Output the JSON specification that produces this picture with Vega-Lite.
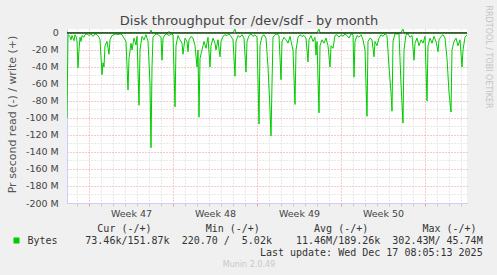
{
  "$schema": "https://vega.github.io/schema/vega-lite/v6.json",
  "width": 400,
  "height": 174,
  "autosize": "none",
  "padding": {"left": 67, "top": 29, "right": 30, "bottom": 72},
  "background": "#f0f0f0",
  "config": {"view": {"stroke": null, "fill": "#ffffff"}, "font": "DejaVu Sans"},
  "data": {"values": [
    {"time":"2025-11-15T04:00:00Z","read":-100,"write":0.2},
    {"time":"2025-11-15T06:00:00Z","read":-2,"write":0.2},
    {"time":"2025-11-15T10:00:00Z","read":-4,"write":0.2},
    {"time":"2025-11-15T12:00:00Z","read":-8,"write":0.2},
    {"time":"2025-11-15T14:00:00Z","read":-3,"write":0.2},
    {"time":"2025-11-15T16:00:00Z","read":-6,"write":0.2},
    {"time":"2025-11-15T18:00:00Z","read":-9,"write":0.2},
    {"time":"2025-11-15T20:00:00Z","read":-2,"write":0.2},
    {"time":"2025-11-15T22:00:00Z","read":-4,"write":0.2},
    {"time":"2025-11-16T00:00:00Z","read":-10,"write":0.2},
    {"time":"2025-11-16T02:00:00Z","read":-41,"write":0.2},
    {"time":"2025-11-16T04:00:00Z","read":-20,"write":0.2},
    {"time":"2025-11-16T06:00:00Z","read":-5,"write":0.2},
    {"time":"2025-11-16T08:00:00Z","read":-10,"write":0.2},
    {"time":"2025-11-16T10:00:00Z","read":-3,"write":0.2},
    {"time":"2025-11-16T14:00:00Z","read":-5,"write":0.2},
    {"time":"2025-11-16T16:00:00Z","read":-2,"write":0.2},
    {"time":"2025-11-16T20:00:00Z","read":-1,"write":0.2},
    {"time":"2025-11-17T00:00:00Z","read":-3,"write":0.2},
    {"time":"2025-11-17T04:00:00Z","read":-1,"write":0.2},
    {"time":"2025-11-17T08:00:00Z","read":-4,"write":0.2},
    {"time":"2025-11-17T12:00:00Z","read":-1,"write":0.2},
    {"time":"2025-11-17T16:00:00Z","read":-2,"write":0.2},
    {"time":"2025-11-17T20:00:00Z","read":-5,"write":0.2},
    {"time":"2025-11-17T22:00:00Z","read":-8,"write":0.2},
    {"time":"2025-11-18T02:00:00Z","read":-49,"write":0.2},
    {"time":"2025-11-18T04:00:00Z","read":-35,"write":0.2},
    {"time":"2025-11-18T06:00:00Z","read":-40,"write":0.2},
    {"time":"2025-11-18T08:00:00Z","read":-15,"write":0.2},
    {"time":"2025-11-18T12:00:00Z","read":-10,"write":0.2},
    {"time":"2025-11-18T16:00:00Z","read":-25,"write":0.2},
    {"time":"2025-11-18T18:00:00Z","read":-8,"write":0.2},
    {"time":"2025-11-18T22:00:00Z","read":-3,"write":0.2},
    {"time":"2025-11-19T02:00:00Z","read":-2,"write":0.2},
    {"time":"2025-11-19T06:00:00Z","read":-1,"write":0.2},
    {"time":"2025-11-19T10:00:00Z","read":-2,"write":0.2},
    {"time":"2025-11-19T14:00:00Z","read":-1,"write":0.2},
    {"time":"2025-11-19T18:00:00Z","read":-2,"write":0.2},
    {"time":"2025-11-19T22:00:00Z","read":-6,"write":0.2},
    {"time":"2025-11-20T02:00:00Z","read":-10,"write":0.2},
    {"time":"2025-11-20T06:00:00Z","read":-67,"write":0.2},
    {"time":"2025-11-20T08:00:00Z","read":-30,"write":0.2},
    {"time":"2025-11-20T12:00:00Z","read":-12,"write":0.2},
    {"time":"2025-11-20T14:00:00Z","read":-20,"write":0.2},
    {"time":"2025-11-20T18:00:00Z","read":-6,"write":0.2},
    {"time":"2025-11-20T22:00:00Z","read":-14,"write":0.2},
    {"time":"2025-11-21T00:00:00Z","read":-4,"write":0.2},
    {"time":"2025-11-21T04:00:00Z","read":-85,"write":0.2},
    {"time":"2025-11-21T06:00:00Z","read":-20,"write":0.2},
    {"time":"2025-11-21T10:00:00Z","read":-4,"write":0.2},
    {"time":"2025-11-21T14:00:00Z","read":-8,"write":0.2},
    {"time":"2025-11-21T18:00:00Z","read":-2,"write":0.2},
    {"time":"2025-11-21T22:00:00Z","read":-10,"write":0.2},
    {"time":"2025-11-22T02:00:00Z","read":-60,"write":0.2},
    {"time":"2025-11-22T04:00:00Z","read":-135,"write":3.5},
    {"time":"2025-11-22T06:00:00Z","read":-40,"write":0.2},
    {"time":"2025-11-22T08:00:00Z","read":-5,"write":0.2},
    {"time":"2025-11-22T12:00:00Z","read":-2,"write":0.2},
    {"time":"2025-11-22T16:00:00Z","read":-1,"write":0.2},
    {"time":"2025-11-22T20:00:00Z","read":-3,"write":0.2},
    {"time":"2025-11-23T00:00:00Z","read":-5,"write":0.2},
    {"time":"2025-11-23T02:00:00Z","read":-32,"write":0.2},
    {"time":"2025-11-23T04:00:00Z","read":-6,"write":0.2},
    {"time":"2025-11-23T08:00:00Z","read":-2,"write":0.2},
    {"time":"2025-11-23T12:00:00Z","read":-1,"write":0.2},
    {"time":"2025-11-23T16:00:00Z","read":-3,"write":1.5},
    {"time":"2025-11-23T20:00:00Z","read":-1,"write":0.2},
    {"time":"2025-11-24T00:00:00Z","read":-2,"write":0.2},
    {"time":"2025-11-24T04:00:00Z","read":-87,"write":0.2},
    {"time":"2025-11-24T06:00:00Z","read":-15,"write":0.2},
    {"time":"2025-11-24T10:00:00Z","read":-3,"write":0.2},
    {"time":"2025-11-24T14:00:00Z","read":-8,"write":0.2},
    {"time":"2025-11-24T18:00:00Z","read":-12,"write":0.2},
    {"time":"2025-11-24T20:00:00Z","read":-25,"write":0.2},
    {"time":"2025-11-25T00:00:00Z","read":-6,"write":0.2},
    {"time":"2025-11-25T04:00:00Z","read":-10,"write":0.2},
    {"time":"2025-11-25T06:00:00Z","read":-22,"write":0.2},
    {"time":"2025-11-25T08:00:00Z","read":-8,"write":0.2},
    {"time":"2025-11-25T12:00:00Z","read":-4,"write":0.2},
    {"time":"2025-11-25T16:00:00Z","read":-6,"write":0.2},
    {"time":"2025-11-25T20:00:00Z","read":-15,"write":0.2},
    {"time":"2025-11-26T00:00:00Z","read":-40,"write":0.2},
    {"time":"2025-11-26T02:00:00Z","read":-20,"write":0.2},
    {"time":"2025-11-26T04:00:00Z","read":-99,"write":0.2},
    {"time":"2025-11-26T06:00:00Z","read":-30,"write":0.2},
    {"time":"2025-11-26T10:00:00Z","read":-20,"write":0.2},
    {"time":"2025-11-26T14:00:00Z","read":-10,"write":0.2},
    {"time":"2025-11-26T18:00:00Z","read":-18,"write":0.2},
    {"time":"2025-11-26T22:00:00Z","read":-5,"write":0.2},
    {"time":"2025-11-27T02:00:00Z","read":-40,"write":0.2},
    {"time":"2025-11-27T04:00:00Z","read":-15,"write":0.2},
    {"time":"2025-11-27T08:00:00Z","read":-6,"write":0.2},
    {"time":"2025-11-27T12:00:00Z","read":-12,"write":0.2},
    {"time":"2025-11-27T14:00:00Z","read":-20,"write":0.2},
    {"time":"2025-11-27T18:00:00Z","read":-8,"write":0.2},
    {"time":"2025-11-27T22:00:00Z","read":-28,"write":0.2},
    {"time":"2025-11-28T00:00:00Z","read":-10,"write":0.2},
    {"time":"2025-11-28T04:00:00Z","read":-4,"write":0.2},
    {"time":"2025-11-28T08:00:00Z","read":-2,"write":0.2},
    {"time":"2025-11-28T12:00:00Z","read":-3,"write":0.2},
    {"time":"2025-11-28T16:00:00Z","read":-1,"write":0.2},
    {"time":"2025-11-28T20:00:00Z","read":-4,"write":0.2},
    {"time":"2025-11-29T00:00:00Z","read":-8,"write":0.2},
    {"time":"2025-11-29T04:00:00Z","read":-51,"write":4.5},
    {"time":"2025-11-29T06:00:00Z","read":-10,"write":0.2},
    {"time":"2025-11-29T10:00:00Z","read":-3,"write":0.2},
    {"time":"2025-11-29T14:00:00Z","read":-5,"write":0.2},
    {"time":"2025-11-29T18:00:00Z","read":-2,"write":0.2},
    {"time":"2025-11-29T22:00:00Z","read":-6,"write":0.2},
    {"time":"2025-11-30T02:00:00Z","read":-46,"write":0.2},
    {"time":"2025-11-30T04:00:00Z","read":-10,"write":0.2},
    {"time":"2025-11-30T08:00:00Z","read":-3,"write":0.2},
    {"time":"2025-11-30T12:00:00Z","read":-1,"write":0.2},
    {"time":"2025-11-30T16:00:00Z","read":-4,"write":0.2},
    {"time":"2025-11-30T20:00:00Z","read":-2,"write":0.2},
    {"time":"2025-12-01T00:00:00Z","read":-5,"write":0.2},
    {"time":"2025-12-01T04:00:00Z","read":-107,"write":0.2},
    {"time":"2025-12-01T06:00:00Z","read":-15,"write":0.2},
    {"time":"2025-12-01T10:00:00Z","read":-4,"write":0.2},
    {"time":"2025-12-01T14:00:00Z","read":-2,"write":0.2},
    {"time":"2025-12-01T18:00:00Z","read":-6,"write":0.2},
    {"time":"2025-12-01T22:00:00Z","read":-40,"write":0.2},
    {"time":"2025-12-02T02:00:00Z","read":-90,"write":0.2},
    {"time":"2025-12-02T04:00:00Z","read":-121,"write":0.2},
    {"time":"2025-12-02T06:00:00Z","read":-60,"write":0.2},
    {"time":"2025-12-02T08:00:00Z","read":-5,"write":0.2},
    {"time":"2025-12-02T12:00:00Z","read":-2,"write":0.2},
    {"time":"2025-12-02T16:00:00Z","read":-1,"write":0.2},
    {"time":"2025-12-02T20:00:00Z","read":-3,"write":0.2},
    {"time":"2025-12-03T00:00:00Z","read":-55,"write":0.2},
    {"time":"2025-12-03T02:00:00Z","read":-10,"write":0.2},
    {"time":"2025-12-03T06:00:00Z","read":-5,"write":0.2},
    {"time":"2025-12-03T10:00:00Z","read":-8,"write":0.2},
    {"time":"2025-12-03T14:00:00Z","read":-12,"write":0.2},
    {"time":"2025-12-03T18:00:00Z","read":-4,"write":0.2},
    {"time":"2025-12-03T22:00:00Z","read":-15,"write":0.2},
    {"time":"2025-12-04T00:00:00Z","read":-20,"write":0.2},
    {"time":"2025-12-04T04:00:00Z","read":-84,"write":0.2},
    {"time":"2025-12-04T06:00:00Z","read":-20,"write":0.2},
    {"time":"2025-12-04T10:00:00Z","read":-5,"write":0.2},
    {"time":"2025-12-04T14:00:00Z","read":-2,"write":0.2},
    {"time":"2025-12-04T18:00:00Z","read":-4,"write":0.2},
    {"time":"2025-12-04T22:00:00Z","read":-3,"write":0.2},
    {"time":"2025-12-05T02:00:00Z","read":-6,"write":0.2},
    {"time":"2025-12-05T06:00:00Z","read":-34,"write":0.2},
    {"time":"2025-12-05T08:00:00Z","read":-8,"write":0.2},
    {"time":"2025-12-05T12:00:00Z","read":-3,"write":0.2},
    {"time":"2025-12-05T16:00:00Z","read":-10,"write":0.2},
    {"time":"2025-12-05T20:00:00Z","read":-5,"write":0.2},
    {"time":"2025-12-05T22:00:00Z","read":-26,"write":0.2},
    {"time":"2025-12-06T00:00:00Z","read":-10,"write":0.2},
    {"time":"2025-12-06T04:00:00Z","read":-94,"write":4.5},
    {"time":"2025-12-06T06:00:00Z","read":-15,"write":0.2},
    {"time":"2025-12-06T10:00:00Z","read":-8,"write":0.2},
    {"time":"2025-12-06T14:00:00Z","read":-12,"write":0.2},
    {"time":"2025-12-06T18:00:00Z","read":-6,"write":0.2},
    {"time":"2025-12-06T22:00:00Z","read":-15,"write":0.2},
    {"time":"2025-12-07T02:00:00Z","read":-40,"write":0.2},
    {"time":"2025-12-07T04:00:00Z","read":-15,"write":0.2},
    {"time":"2025-12-07T08:00:00Z","read":-18,"write":0.2},
    {"time":"2025-12-07T12:00:00Z","read":-3,"write":0.2},
    {"time":"2025-12-07T16:00:00Z","read":-2,"write":0.2},
    {"time":"2025-12-07T20:00:00Z","read":-5,"write":0.2},
    {"time":"2025-12-08T00:00:00Z","read":-2,"write":0.2},
    {"time":"2025-12-08T04:00:00Z","read":-4,"write":0.2},
    {"time":"2025-12-08T08:00:00Z","read":-1,"write":0.2},
    {"time":"2025-12-08T12:00:00Z","read":-3,"write":0.2},
    {"time":"2025-12-08T16:00:00Z","read":-6,"write":0.2},
    {"time":"2025-12-08T20:00:00Z","read":-1,"write":0.2},
    {"time":"2025-12-09T00:00:00Z","read":-2,"write":0.2},
    {"time":"2025-12-09T02:00:00Z","read":-52,"write":0.2},
    {"time":"2025-12-09T04:00:00Z","read":-10,"write":0.2},
    {"time":"2025-12-09T08:00:00Z","read":-3,"write":0.2},
    {"time":"2025-12-09T12:00:00Z","read":-5,"write":0.2},
    {"time":"2025-12-09T16:00:00Z","read":-2,"write":0.2},
    {"time":"2025-12-09T20:00:00Z","read":-8,"write":0.2},
    {"time":"2025-12-10T00:00:00Z","read":-20,"write":0.2},
    {"time":"2025-12-10T02:00:00Z","read":-60,"write":0.2},
    {"time":"2025-12-10T04:00:00Z","read":-98,"write":0.2},
    {"time":"2025-12-10T06:00:00Z","read":-10,"write":0.2},
    {"time":"2025-12-10T10:00:00Z","read":-6,"write":0.2},
    {"time":"2025-12-10T14:00:00Z","read":-8,"write":0.2},
    {"time":"2025-12-10T18:00:00Z","read":-28,"write":0.2},
    {"time":"2025-12-10T20:00:00Z","read":-10,"write":0.2},
    {"time":"2025-12-11T00:00:00Z","read":-15,"write":0.2},
    {"time":"2025-12-11T04:00:00Z","read":-6,"write":0.2},
    {"time":"2025-12-11T08:00:00Z","read":-2,"write":0.2},
    {"time":"2025-12-11T12:00:00Z","read":-4,"write":0.2},
    {"time":"2025-12-11T16:00:00Z","read":-1,"write":0.2},
    {"time":"2025-12-11T20:00:00Z","read":-3,"write":0.2},
    {"time":"2025-12-12T00:00:00Z","read":-40,"write":0.2},
    {"time":"2025-12-12T04:00:00Z","read":-70,"write":0.2},
    {"time":"2025-12-12T06:00:00Z","read":-92,"write":0.2},
    {"time":"2025-12-12T08:00:00Z","read":-10,"write":0.2},
    {"time":"2025-12-12T12:00:00Z","read":-1,"write":0.2},
    {"time":"2025-12-12T16:00:00Z","read":-1,"write":0.2},
    {"time":"2025-12-12T20:00:00Z","read":-1,"write":0.2},
    {"time":"2025-12-13T00:00:00Z","read":-60,"write":0.2},
    {"time":"2025-12-13T04:00:00Z","read":-106,"write":4.5},
    {"time":"2025-12-13T06:00:00Z","read":-20,"write":0.2},
    {"time":"2025-12-13T10:00:00Z","read":-2,"write":0.2},
    {"time":"2025-12-13T14:00:00Z","read":-1,"write":0.2},
    {"time":"2025-12-13T18:00:00Z","read":-5,"write":0.2},
    {"time":"2025-12-13T22:00:00Z","read":-3,"write":0.2},
    {"time":"2025-12-14T02:00:00Z","read":-32,"write":0.2},
    {"time":"2025-12-14T04:00:00Z","read":-12,"write":0.2},
    {"time":"2025-12-14T08:00:00Z","read":-6,"write":0.2},
    {"time":"2025-12-14T12:00:00Z","read":-15,"write":0.2},
    {"time":"2025-12-14T16:00:00Z","read":-8,"write":0.2},
    {"time":"2025-12-14T20:00:00Z","read":-12,"write":0.2},
    {"time":"2025-12-15T00:00:00Z","read":-4,"write":0.2},
    {"time":"2025-12-15T04:00:00Z","read":-80,"write":0.2},
    {"time":"2025-12-15T06:00:00Z","read":-15,"write":0.2},
    {"time":"2025-12-15T10:00:00Z","read":-6,"write":0.2},
    {"time":"2025-12-15T14:00:00Z","read":-12,"write":0.2},
    {"time":"2025-12-15T18:00:00Z","read":-4,"write":0.2},
    {"time":"2025-12-15T22:00:00Z","read":-10,"write":0.2},
    {"time":"2025-12-16T02:00:00Z","read":-22,"write":0.2},
    {"time":"2025-12-16T04:00:00Z","read":-8,"write":0.2},
    {"time":"2025-12-16T08:00:00Z","read":-4,"write":0.2},
    {"time":"2025-12-16T12:00:00Z","read":-2,"write":0.2},
    {"time":"2025-12-16T16:00:00Z","read":-6,"write":0.2},
    {"time":"2025-12-16T20:00:00Z","read":-30,"write":0.2},
    {"time":"2025-12-17T00:00:00Z","read":-70,"write":0.2},
    {"time":"2025-12-17T04:00:00Z","read":-93,"write":0.2},
    {"time":"2025-12-17T06:00:00Z","read":-20,"write":0.2},
    {"time":"2025-12-17T10:00:00Z","read":-10,"write":0.2},
    {"time":"2025-12-17T14:00:00Z","read":-6,"write":0.2},
    {"time":"2025-12-17T18:00:00Z","read":-15,"write":0.2},
    {"time":"2025-12-17T22:00:00Z","read":-8,"write":0.2},
    {"time":"2025-12-18T02:00:00Z","read":-40,"write":0.2},
    {"time":"2025-12-18T04:00:00Z","read":-20,"write":0.2},
    {"time":"2025-12-18T08:00:00Z","read":-5,"write":0.2},
    {"time":"2025-12-18T12:00:00Z","read":-2,"write":0.2}
  ]},
  "layer": [
    {
      "mark": {"type": "line", "strokeWidth": 1, "clip": true},
      "encoding": {
        "x": {
          "field": "time", "type": "temporal",
          "scale": {"type": "utc", "domain": [1763179200000, 1766059200000]},
          "axis": {
            "orient": "bottom",
            "title": [
              "\u2060\u00a0\u00a0Cur\u00a0(-/+)\u00a0\u00a0\u00a0\u00a0\u00a0\u00a0\u00a0\u00a0\u00a0Min\u00a0(-/+)\u00a0\u00a0\u00a0\u00a0\u00a0\u00a0\u00a0\u00a0\u00a0Avg\u00a0(-/+)\u00a0\u00a0\u00a0\u00a0\u00a0\u00a0\u00a0\u00a0\u00a0Max\u00a0(-/+)",
              "73.46k/151.87k\u00a0\u00a0220.70\u00a0/\u00a0\u00a05.02k\u00a0\u00a0\u00a0\u00a011.46M/189.26k\u00a0\u00a0302.43M/\u00a045.74M",
              "\u2060\u00a0\u00a0\u00a0\u00a0\u00a0\u00a0\u00a0\u00a0\u00a0\u00a0\u00a0\u00a0\u00a0\u00a0\u00a0\u00a0\u00a0\u00a0\u00a0\u00a0\u00a0\u00a0\u00a0\u00a0\u00a0\u00a0\u00a0\u00a0\u00a0Last\u00a0update:\u00a0Wed\u00a0Dec\u00a017\u00a008:05:13\u00a02025"
            ],
            "titleFont": "DejaVu Sans Mono", "titleFontSize": 10, "titleFontWeight": "normal", "titleColor": "#333333",
            "titleLineHeight": 12, "titleAlign": "left", "titleBaseline": "alphabetic", "titleX": 17.8, "titleY": 28,
            "values": [1763208000000,1763251200000,1763294400000,1763337600000,1763380800000,1763424000000,1763467200000,1763510400000,1763553600000,1763596800000,1763640000000,1763683200000,1763726400000,1763769600000,1763812800000,1763856000000,1763899200000,1763942400000,1763985600000,1764028800000,1764072000000,1764115200000,1764158400000,1764201600000,1764244800000,1764288000000,1764331200000,1764374400000,1764417600000,1764460800000,1764504000000,1764547200000,1764590400000,1764633600000,1764676800000,1764720000000,1764763200000,1764806400000,1764849600000,1764892800000,1764936000000,1764979200000,1765022400000,1765065600000,1765108800000,1765152000000,1765195200000,1765238400000,1765281600000,1765324800000,1765368000000,1765411200000,1765454400000,1765497600000,1765540800000,1765584000000,1765627200000,1765670400000,1765713600000,1765756800000,1765800000000,1765843200000,1765886400000,1765929600000,1765972800000,1766016000000],
            "grid": true, "gridDash": [1, 2],
            "gridColor": {"condition": {"test": "utcday(datum.value) == 1", "value": "#e69a9a"}, "value": "#d2d2d2"},
            "gridOpacity": {"condition": {"test": "utchours(datum.value) == 12", "value": 0}, "value": 1},
            "ticks": true, "tickSize": 3,
            "tickColor": {"condition": {"test": "utcday(datum.value) == 1", "value": "#e69a9a"}, "value": "#c8c8c8"},
            "tickOpacity": {"condition": {"test": "utchours(datum.value) == 12", "value": 0}, "value": 1},
            "labelExpr": "utcday(datum.value) == 4 && utchours(datum.value) == 12 ? 'Week ' + (47 + round((datum.value - 1763640000000) / 604800000)) : ''",
            "labelFont": "DejaVu Sans", "labelFontSize": 9.5, "labelColor": "#444444", "labelPadding": 2,
            "labelOverlap": false, "labelFlush": false, "labelBound": false,
            "domainColor": "#ccccff"
          }
        },
        "y": {
          "field": "read", "type": "quantitative",
          "scale": {"domain": [-200, 4.7], "nice": false, "zero": false},
          "axis": {
            "orient": "left",
            "values": [-200, -190, -180, -170, -160, -150, -140, -130, -120, -110, -100, -90, -80, -70, -60, -50, -40, -30, -20, -10, 0],
            "title": "Pr second read (-) / write (+)",
            "titleFont": "DejaVu Sans", "titleFontSize": 11, "titleFontWeight": "normal", "titleColor": "#555555",
            "titleAngle": -90, "titleAlign": "center", "titleBaseline": "alphabetic", "titleX": -52, "titleY": 85,
            "grid": true, "gridDash": [1, 2],
            "gridColor": {"condition": {"test": "datum.value % 20 == 0", "value": "#e69a9a"}, "value": "#d2d2d2"},
            "ticks": false, "labelPadding": 8.7,
            "labelExpr": "datum.value % 20 != 0 ? '' : (datum.value == 0 ? '0\u2002' : datum.value + ' M')",
            "labelFont": "DejaVu Sans", "labelFontSize": 9.5, "labelColor": "#444444", "labelOverlap": false,
            "domainColor": "#ccccff"
          }
        },
        "color": {
          "datum": "Bytes",
          "scale": {"range": ["#00cc00"]},
          "legend": {
            "orient": "none", "legendX": -55.5, "legendY": 206.5, "title": null, "padding": 0,
            "symbolType": "square", "symbolSize": 36, "symbolFillColor": "#00cc00", "symbolStrokeWidth": 0,
            "labelFont": "DejaVu Sans Mono", "labelFontSize": 10, "labelColor": "#333333", "labelOffset": 6
          }
        }
      }
    },
    {
      "mark": {"type": "line", "color": "#00cc00", "strokeWidth": 1, "clip": true},
      "encoding": {
        "x": {
          "field": "time", "type": "temporal",
          "scale": {"type": "utc", "domain": [1763179200000, 1766059200000]},
          "axis": {
            "orient": "bottom",
            "title": "Munin 2.0.49", "labels": false, "ticks": false, "grid": false, "domain": false,
            "titleFont": "DejaVu Sans", "titleFontSize": 8, "titleFontWeight": "normal", "titleColor": "#c8c8c8",
            "titleAlign": "center", "titleBaseline": "alphabetic", "titleX": 181.5, "titleY": 63
          }
        },
        "y": {
          "field": "write", "type": "quantitative",
          "scale": {"domain": [-200, 4.7], "nice": false, "zero": false},
          "axis": {
            "orient": "right", "title": "RRDTOOL / TOBI OETIKER", "labels": false, "ticks": false, "grid": false, "domain": false,
            "titleFont": "DejaVu Sans", "titleFontSize": 8, "titleFontWeight": "normal", "titleColor": "#c4c4c4",
            "titleAngle": 90, "titleAlign": "left", "titleBaseline": "alphabetic", "titleX": 18, "titleY": -24
          }
        }
      }
    },
    {
      "data": {"values": [{"label": "zero"}]},
      "mark": {"type": "rule", "color": "#000000", "strokeWidth": 1},
      "encoding": {
        "y": {
          "datum": 0, "type": "quantitative",
          "scale": {"domain": [-200, 4.7], "nice": false, "zero": false},
          "axis": {
            "orient": "left", "title": "Disk throughput for /dev/sdf - by month", "labels": false, "ticks": false, "grid": false, "domain": false,
            "titleFont": "DejaVu Sans", "titleFontSize": 13, "titleFontWeight": "normal", "titleColor": "#444444",
            "titleAngle": 0, "titleAlign": "center", "titleBaseline": "alphabetic", "titleX": 181.5, "titleY": -5
          }
        }
      }
    }
  ],
  "resolve": {"axis": {"x": "independent", "y": "independent"}}
}
